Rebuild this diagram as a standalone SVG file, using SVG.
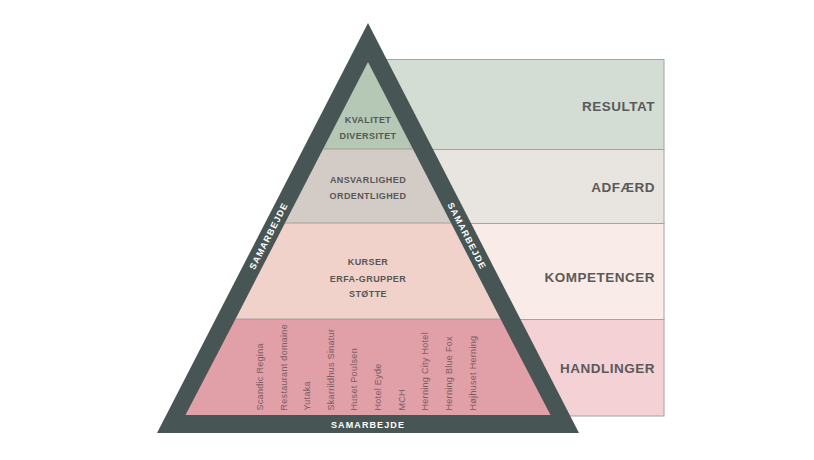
<svg xmlns="http://www.w3.org/2000/svg" width="814" height="460" viewBox="0 0 814 460">
<style>
.lbl{font-family:"Liberation Sans",Arial,sans-serif;font-weight:bold;font-size:13.5px;fill:#5a5a5a;text-anchor:end;letter-spacing:0.5px}
.in{font-family:"Liberation Sans",Arial,sans-serif;font-weight:bold;font-size:9px;fill:#575757;text-anchor:middle;letter-spacing:0.4px}
.nm{font-family:"Liberation Sans",Arial,sans-serif;font-size:9px;fill:#7a5e62;letter-spacing:0.3px}
.sam{font-family:"Liberation Sans",Arial,sans-serif;font-weight:bold;font-size:9px;fill:#ffffff;text-anchor:middle;letter-spacing:1.1px}
.row{stroke:#a4a4a4;stroke-width:1}
.div{stroke:#9c9390;stroke-width:0.8}
</style>
<rect width="814" height="460" fill="#ffffff"/>
<g id="panel-resultat"><rect class="row" x="380" y="59.5" width="284" height="90" fill="#d4ddd4"/><text class="lbl" x="655" y="111">RESULTAT</text></g>
<g id="panel-adfaerd"><rect class="row" x="380" y="149.5" width="284" height="74" fill="#e8e5e0"/><text class="lbl" x="655" y="192">ADFÆRD</text></g>
<g id="panel-kompetencer"><rect class="row" x="380" y="223.5" width="284" height="96" fill="#f9ebe7"/><text class="lbl" x="655" y="282">KOMPETENCER</text></g>
<g id="panel-handlinger"><rect class="row" x="380" y="319.5" width="284" height="96.5" fill="#f4d1d5"/><text class="lbl" x="655" y="373">HANDLINGER</text></g>
<g id="frame">
<polygon points="368,23 157,433 579,433" fill="#475654"/>
<text class="sam" transform="translate(268.5,236) rotate(-62.8)" dy="3.2">SAMARBEJDE</text>
<text class="sam" transform="translate(467,236) rotate(62.8)" dy="3.2">SAMARBEJDE</text>
<text class="sam" x="368" y="428.3">SAMARBEJDE</text>
</g>
<g id="band-resultat"><polygon points="368,62 412.9,149 323.1,149" fill="#b4c8b5"/><text class="in" x="368" y="122.5">KVALITET</text><text class="in" x="368" y="138.7">DIVERSITET</text></g>
<g id="band-adfaerd"><polygon points="323.1,149 412.9,149 451,223 285,223" fill="#d3ccc6"/><text class="in" x="368" y="183.3">ANSVARLIGHED</text><text class="in" x="368" y="199">ORDENTLIGHED</text></g>
<g id="band-kompetencer"><polygon points="285,223 451,223 500.5,319 235.5,319" fill="#f0d2ca"/><text class="in" x="368" y="265">KURSER</text><text class="in" x="368" y="281.7">ERFA-GRUPPER</text><text class="in" x="368" y="297.3">STØTTE</text></g>
<g id="band-handlinger"><polygon points="235.5,319 500.5,319 550.5,415 185.5,415" fill="#e19fa8"/>
<text class="nm" transform="translate(263.3,410.5) rotate(-90)">Scandic Regina</text>
<text class="nm" transform="translate(286.8,410.5) rotate(-90)">Restaurant domaine</text>
<text class="nm" transform="translate(310.3,410.5) rotate(-90)">Yutaka</text>
<text class="nm" transform="translate(333.8,410.5) rotate(-90)">Skarrildhus Sinatur</text>
<text class="nm" transform="translate(357.3,410.5) rotate(-90)">Huset Poulsen</text>
<text class="nm" transform="translate(380.8,410.5) rotate(-90)">Hotel Eyde</text>
<text class="nm" transform="translate(404.5,410.5) rotate(-90)">MCH</text>
<text class="nm" transform="translate(428,410.5) rotate(-90)">Herning City Hotel</text>
<text class="nm" transform="translate(451.5,410.5) rotate(-90)">Herning Blue Fox</text>
<text class="nm" transform="translate(475.5,410.5) rotate(-90)">Højhuset Herning</text>
</g>
<g id="connectors">
<line class="div" x1="323.1" y1="149" x2="412.9" y2="149"/>
<line class="div" x1="285" y1="223" x2="451" y2="223"/>
<line class="div" x1="235.5" y1="319" x2="500.5" y2="319" stroke="#c98e95"/>
</g>
</svg>
